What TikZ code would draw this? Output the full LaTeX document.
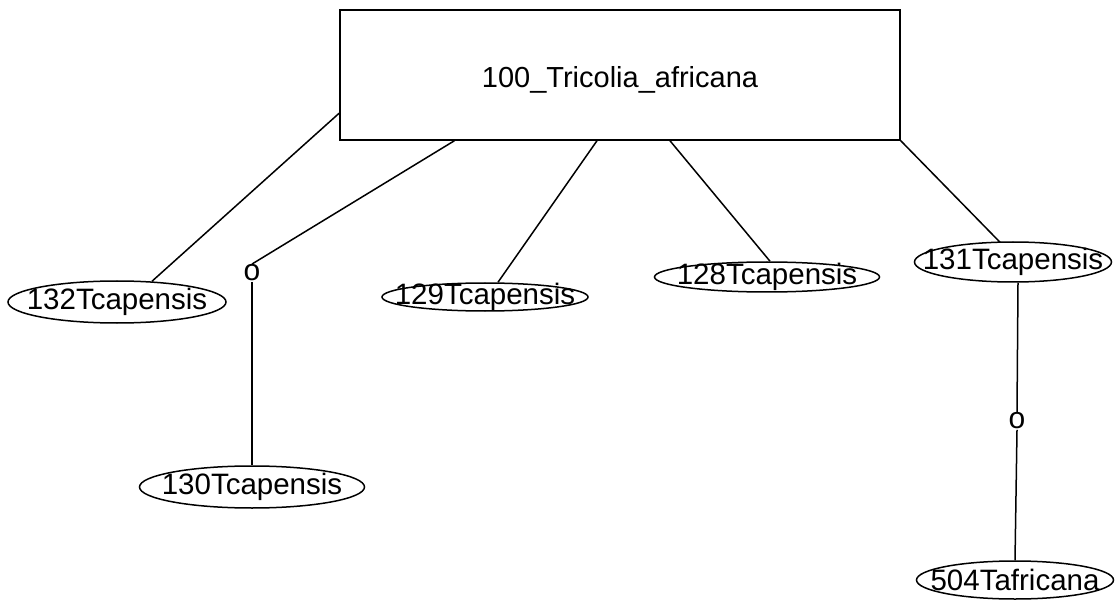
\documentclass[tikz,border=0pt]{standalone}
\usepackage{fontspec}
\setmainfont{Liberation Sans}
\usetikzlibrary{shapes.geometric,calc}
\begin{document}
\begin{tikzpicture}[x=1pt,y=-1pt,line width=1.5pt,
  every node/.style={font=\fontsize{29}{31}\selectfont},
  every label/.style={font=\fontsize{29.5}{31}\selectfont},
  ell/.style={draw,ellipse,inner sep=0pt},
  mark o/.style={inner sep=0pt,font=\fontsize{30}{32}\selectfont},
  link/.style={draw,line width=1.5pt}]
\useasboundingbox (0,0) rectangle (1115,601);
\node[draw,minimum width=560,minimum height=130,inner sep=0pt] (root) at (620,75) {};
\node at (620,80) {100\_Tricolia\_africana};
\node[ell,minimum width=218,minimum height=42,label={center:132Tcapensis}] (e132) at (117,302) {};
\node[ell,minimum width=206,minimum height=28,label={center:129Tcapensis}] (e129) at (485,297) {};
\node[ell,minimum width=225,minimum height=30,label={center:128Tcapensis}] (e128) at (767,277) {};
\node[ell,minimum width=197,minimum height=40,label={center:131Tcapensis}] (e131) at (1013,262) {};
\node[ell,minimum width=225,minimum height=42,label={center:130Tcapensis}] (e130) at (252,487) {};
\node[ell,minimum width=197,minimum height=38,label={center:504Tafricana}] (e504) at (1015,580) {};
\node[mark o] (o1) at (252,273) {o};
\node[mark o] (o2) at (1017,421) {o};
\draw[link] ($(root.north west)!0.79!(root.south west)$) -- ($(e132.north)+(35,1)$);
\draw[link] ($(root.south west)!0.205!(root.south east)$) -- (o1.north);
\draw[link] (o1.south) -- (e130.north);
\draw[link] ($(root.south west)!0.459!(root.south east)$) -- ($(e129.north)+(13,0)$);
\draw[link] ($(root.south west)!0.589!(root.south east)$) -- ($(e128.north)+(3,0)$);
\draw[link] (root.south east) -- ($(e131.north)+(-13,1)$);
\draw[link] ($(e131.south)+(5,0)$) -- (o2.north);
\draw[link] (o2.south) -- (e504.north);
\end{tikzpicture}
\end{document}
